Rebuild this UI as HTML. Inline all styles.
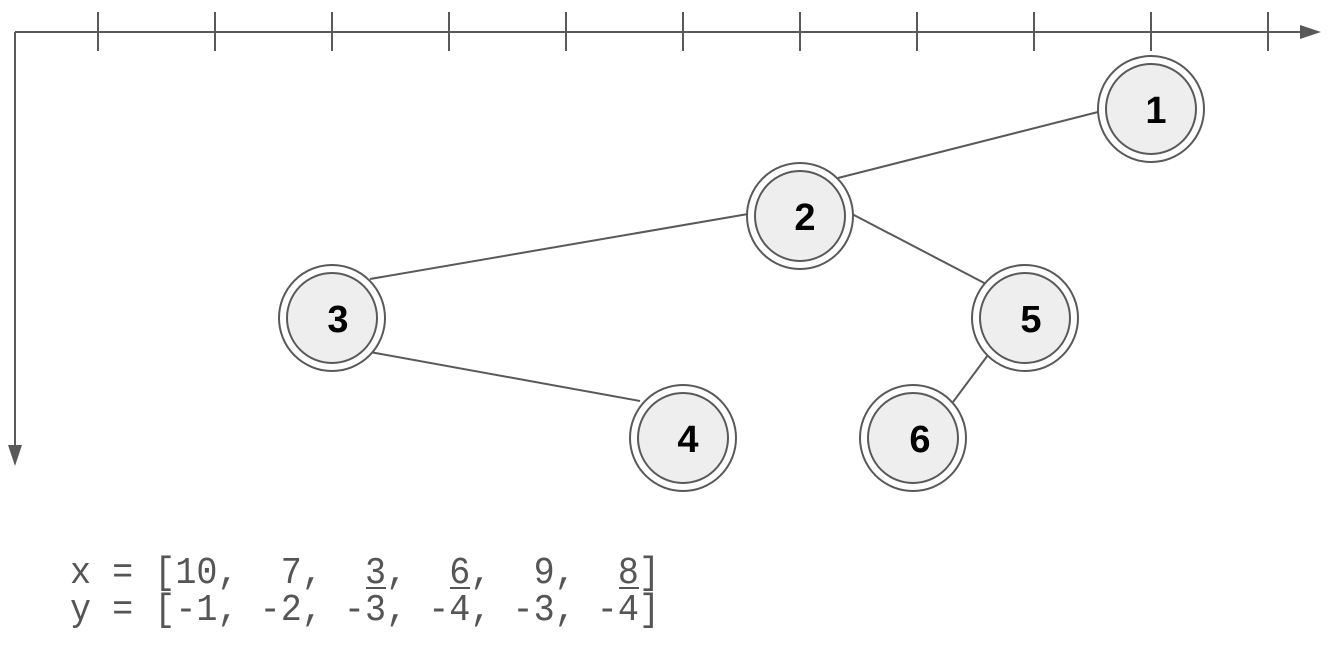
<!DOCTYPE html>
<html><head><style>body{margin:0;background:#fff}svg{display:block}</style></head><body>
<svg width="1334" height="658" xmlns="http://www.w3.org/2000/svg">
<g stroke="#595959" stroke-width="2" fill="none">
<line x1="15" y1="32" x2="1302" y2="32"/>
<line x1="15" y1="32" x2="15" y2="448"/>
<g>
<line x1="98" y1="12" x2="98" y2="51"/><line x1="215" y1="12" x2="215" y2="51"/><line x1="332" y1="12" x2="332" y2="51"/><line x1="449" y1="12" x2="449" y2="51"/><line x1="566" y1="12" x2="566" y2="51"/><line x1="683" y1="12" x2="683" y2="51"/><line x1="800" y1="12" x2="800" y2="51"/><line x1="917" y1="12" x2="917" y2="51"/><line x1="1034" y1="12" x2="1034" y2="51"/><line x1="1151" y1="12" x2="1151" y2="51"/><line x1="1268" y1="12" x2="1268" y2="51"/>
</g>
<line x1="1098" y1="112" x2="838" y2="178"/>
<line x1="748" y1="214" x2="370" y2="279"/>
<line x1="852" y1="214" x2="990" y2="286"/>
<line x1="370" y1="352" x2="640" y2="401"/>
<line x1="988" y1="355" x2="953" y2="402"/>
</g>
<polygon points="1300,25 1321,32 1300,39" fill="#595959"/>
<polygon points="8,445 15,466 22,445" fill="#595959"/>
<g stroke="#595959" stroke-width="2">
<g transform="translate(1151,109)"><circle r="53" fill="#fff"/><circle r="45" fill="#eee"/></g>
<g transform="translate(800,216)"><circle r="53" fill="#fff"/><circle r="45" fill="#eee"/></g>
<g transform="translate(332,318)"><circle r="53" fill="#fff"/><circle r="45" fill="#eee"/></g>
<g transform="translate(683,438)"><circle r="53" fill="#fff"/><circle r="45" fill="#eee"/></g>
<g transform="translate(1025,318)"><circle r="53" fill="#fff"/><circle r="45" fill="#eee"/></g>
<g transform="translate(913,438)"><circle r="53" fill="#fff"/><circle r="45" fill="#eee"/></g>
</g>
<g font-family="Liberation Sans, sans-serif" font-weight="bold" font-size="38" text-anchor="middle" fill="#000">
<text x="1156" y="123">1</text><text x="805" y="230">2</text><text x="338" y="332">3</text><text x="688" y="452">4</text><text x="1031" y="332">5</text><text x="920" y="452">6</text>
</g>
<g font-family="Liberation Mono, monospace" font-size="38" fill="#555" style="white-space:pre">
<text x="70" y="583" textLength="590" lengthAdjust="spacingAndGlyphs" xml:space="preserve">x = [10,  7,  3,  6,  9,  8]</text>
<text x="70" y="620" textLength="590" lengthAdjust="spacingAndGlyphs" xml:space="preserve">y = [-1, -2, -3, -4, -3, -4]</text>
</g>
<g stroke="#555" stroke-width="2">
<line x1="366" y1="588" x2="386" y2="588"/><line x1="450" y1="588" x2="470" y2="588"/><line x1="619" y1="588" x2="639" y2="588"/>
</g>
</svg>
</body></html>
